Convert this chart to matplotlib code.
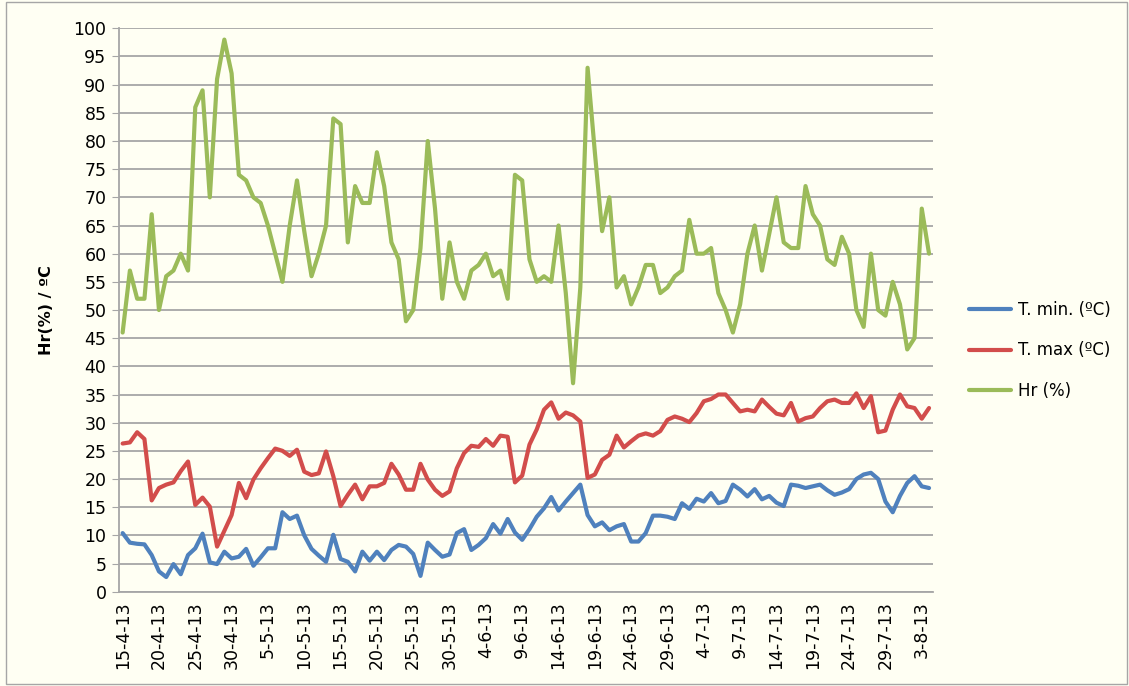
import numpy as np
import pandas as pd
import matplotlib
matplotlib.use("Agg")
from matplotlib import pyplot as plt
from matplotlib.patches import Rectangle

# daily values, starting 15-4-13
t_min = [10.4, 8.7, 8.5, 8.4, 6.5, 3.6, 2.6, 4.9, 3.1, 6.5,
         7.7, 10.3, 5.2, 4.9, 7.1, 5.9, 6.2, 7.6, 4.6, 6.1,
         7.7, 7.7, 14.1, 12.9, 13.5, 10.0, 7.6, 6.4, 5.3, 10.1,
         5.8, 5.3, 3.6, 7.1, 5.5, 7.1, 5.6, 7.4, 8.3, 8.0,
         6.7, 2.8, 8.7, 7.4, 6.2, 6.6, 10.4, 11.1, 7.4, 8.3,
         9.5, 12.0, 10.3, 12.9, 10.5, 9.2, 11.1, 13.3, 14.8, 16.8,
         14.4, 16.0, 17.5, 19.0, 13.6, 11.6, 12.3, 10.9, 11.6, 12.0,
         8.9, 8.9, 10.4, 13.5, 13.5, 13.3, 12.9, 15.7, 14.7, 16.5,
         16.0, 17.5, 15.7, 16.1, 19.0, 18.1, 16.9, 18.2, 16.4, 17.0,
         15.8, 15.2, 19.0, 18.8, 18.4, 18.7, 19.0, 18.0, 17.2, 17.6,
         18.2, 20.0, 20.8, 21.1, 20.0, 16.0, 14.1, 17.0, 19.3, 20.5,
         18.7, 18.4]

t_max = [26.3, 26.5, 28.3, 27.1, 16.2, 18.4, 19.0, 19.4, 21.4, 23.1,
         15.4, 16.7, 15.1, 8.0, 10.8, 13.6, 19.3, 16.6, 19.9, 21.9,
         23.7, 25.4, 25.0, 24.1, 25.2, 21.3, 20.7, 21.0, 24.9, 20.5,
         15.2, 17.2, 19.0, 16.4, 18.7, 18.7, 19.3, 22.7, 20.8, 18.1,
         18.1, 22.7, 19.9, 18.1, 17.0, 17.8, 21.9, 24.6, 25.9, 25.7,
         27.1, 25.9, 27.7, 27.5, 19.4, 20.6, 26.1, 28.8, 32.3, 33.6,
         30.7, 31.8, 31.3, 30.2, 20.2, 20.8, 23.4, 24.3, 27.7, 25.6,
         26.7, 27.7, 28.1, 27.7, 28.5, 30.5, 31.1, 30.7, 30.1, 31.7,
         33.8, 34.2, 35.0, 35.0, 33.5, 32.0, 32.3, 32.0, 34.1, 32.8,
         31.6, 31.3, 33.5, 30.2, 30.8, 31.1, 32.6, 33.8, 34.1, 33.5,
         33.5, 35.2, 32.6, 34.7, 28.3, 28.6, 32.3, 35.0, 32.9, 32.6,
         30.7, 32.6]

hr = [46, 57, 52, 52, 67, 50, 56, 57, 60, 57,
      86, 89, 70, 91, 98, 92, 74, 73, 70, 69,
      65, 60, 55, 65, 73, 64, 56, 60, 65, 84,
      83, 62, 72, 69, 69, 78, 72, 62, 59, 48,
      50, 61, 80, 68, 52, 62, 55, 52, 57, 58,
      60, 56, 57, 52, 74, 73, 59, 55, 56, 55,
      65, 53, 37, 54, 93, 78, 64, 70, 54, 56,
      51, 54, 58, 58, 53, 54, 56, 57, 66, 60,
      60, 61, 53, 50, 46, 51, 60, 65, 57, 63.5,
      70, 62, 61, 61, 72, 67, 65, 59, 58, 63,
      60, 50, 47, 60, 50, 49, 55, 51, 43, 45,
      68, 60]

series_names = ['T. min. (ºC)', 'T. max (ºC)', 'Hr (%)']
series_colors = ['#4F81BD', '#D24D4B', '#9BBB59']

dates = pd.date_range('2013-04-15', periods=len(hr), freq='D')
labels = [f"{d.day}-{d.month}-{d.year % 100}" for d in dates]

bg = '#FFFFF3'
plt.rcParams['font.family'] = ['DejaVu Sans']

fig = plt.figure(figsize=(11.29, 6.86), dpi=100, facecolor=bg)
ax = fig.add_axes([0.1054, 0.1375, 0.7207, 0.8212], facecolor=bg)

x = np.arange(len(hr))
lines = []
for vals, name, col in zip([t_min, t_max, hr], series_names, series_colors):
    ln, = ax.plot(x, vals, color=col, lw=3.0, solid_joinstyle='round',
                  solid_capstyle='round', label=name, zorder=3)
    lines.append(ln)

ax.set_xlim(-0.5, len(hr) - 0.5)
ax.set_ylim(0, 100)
ax.set_yticks(np.arange(0, 101, 5))
ax.yaxis.grid(True, color='#A6A6A6', lw=1.3)
ax.set_axisbelow(True)

ticks = x[::5]
ax.set_xticks(ticks)
ax.set_xticklabels([labels[i] for i in ticks], rotation=90, fontsize=12.5)
ax.tick_params(axis='x', length=0, pad=7)
ax.tick_params(axis='y', length=5, color='#A6A6A6', labelsize=12.5, pad=4)

for s in ['top', 'right']:
    ax.spines[s].set_visible(False)
for s in ['left', 'bottom']:
    ax.spines[s].set_color('#A6A6A6')
    ax.spines[s].set_linewidth(1.3)

ax.set_ylabel('Hr(%) / ºC', fontsize=11.5, fontweight='bold', labelpad=14)

fig.legend(handles=lines, loc='upper left', bbox_to_anchor=(0.851, 0.573),
           frameon=False, fontsize=12, handlelength=2.5, handletextpad=0.45,
           labelspacing=1.33, borderpad=0)

fig.patches.append(Rectangle((0.005, 0.003), 0.993, 0.994, transform=fig.transFigure,
                             fill=False, edgecolor='#A6A6A6', lw=1))

fig.savefig('out.png', dpi=100, facecolor=bg)
